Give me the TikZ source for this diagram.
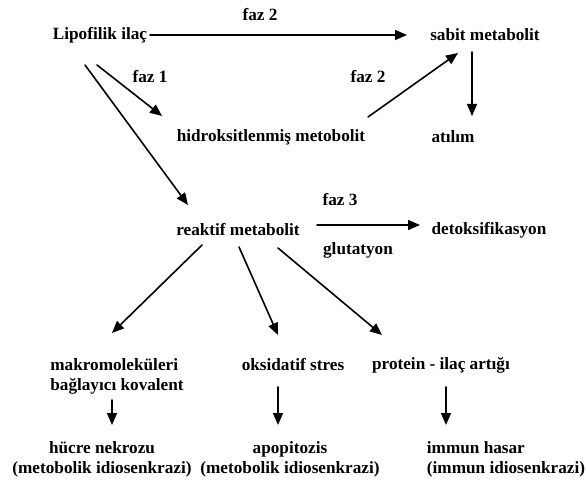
\documentclass[tikz,border=0pt]{standalone}
\usepackage{fontspec}
\setmainfont{Liberation Serif}
\usetikzlibrary{arrows.meta,calc}

\tikzset{
  txt/.style={inner sep=0pt, font=\bfseries\fontsize{12.9}{15}\selectfont},
  conn/.style={-{Triangle[length=9pt,width=7.5pt]}, line width=1.2pt},
}

\begin{document}
\begin{tikzpicture}[x=0.75pt, y=-0.75pt, line cap=round, line join=round]
  \useasboundingbox (0,0) rectangle (586,481);
  % top row
  \node[txt] (lipo) at (100,35) {Lipofilik ilaç};
  \node[txt] (sabit) at (485,35) {sabit metabolit};
  \node[txt] (hidro) at (271,137) {hidroksitlenmiş metobolit};
  \node[txt] (atilim) at (453,137) {atılım};
  \node[txt] (reaktif) at (238,230) {reaktif metabolit};
  \node[txt] (detoks) at (489,230) {detoksifikasyon};
  % the three outcomes of the reactive metabolite
  \node[txt, align=left] (makro) at (117,376) {makromoleküleri\\bağlayıcı kovalent};
  \node[txt] (oksid) at (293,365) {oksidatif stres};
  \node[txt] (protein) at (441,365) {protein - ilaç artığı};
  \node[txt, align=center] (hucre) at (102,459) {hücre nekrozu\\(metobolik idiosenkrazi)};
  \node[txt, align=center] (apop) at (290,459) {apopitozis\\(metobolik idiosenkrazi)};
  \node[txt, align=left] (immun) at (506,459) {immun hasar\\(immun idiosenkrazi)};
  % phase labels
  \node[txt] (fazA) at (260,15) {faz 2};
  \node[txt] (fazB) at (150,77) {faz 1};
  \node[txt] (fazC) at (368,77) {faz 2};
  \node[txt] (fazD) at (340,200) {faz 3};
  \node[txt] (glut) at (358,250) {glutatyon};

  \draw[conn] ($(lipo)+(50,0)$) -- ($(sabit)+(-78,0)$);
  \draw[conn] ($(sabit)+(-13,17)$) -- ($(atilim)+(19,-21)$);
  \draw[conn] ($(hidro)+(97,-20)$) -- ($(sabit)+(-27,18)$);
  \draw[conn] ($(lipo)+(-3,30)$) -- ($(hidro)+(-109,-21)$);
  \draw[conn] ($(lipo)+(-15,30)$) -- ($(reaktif)+(-50,-25)$);
  \draw[conn] ($(reaktif)+(79,-5)$) -- ($(detoks)+(-69,-5)$);
  \draw[conn] ($(reaktif)+(-36,15)$) -- ($(makro)+(-5,-43)$);
  \draw[conn] ($(reaktif)+(1,17)$) -- ($(oksid)+(-15,-30)$);
  \draw[conn] ($(reaktif)+(40,18)$) -- ($(protein)+(-59,-30)$);
  \draw[conn] ($(makro)+(-5,24)$) -- ($(hucre)+(10,-34)$);
  \draw[conn] ($(oksid)+(-15,22)$) -- ($(apop)+(-12,-34)$);
  \draw[conn] ($(protein)+(5,22)$) -- ($(immun)+(-60,-34)$);
\end{tikzpicture}
\end{document}
